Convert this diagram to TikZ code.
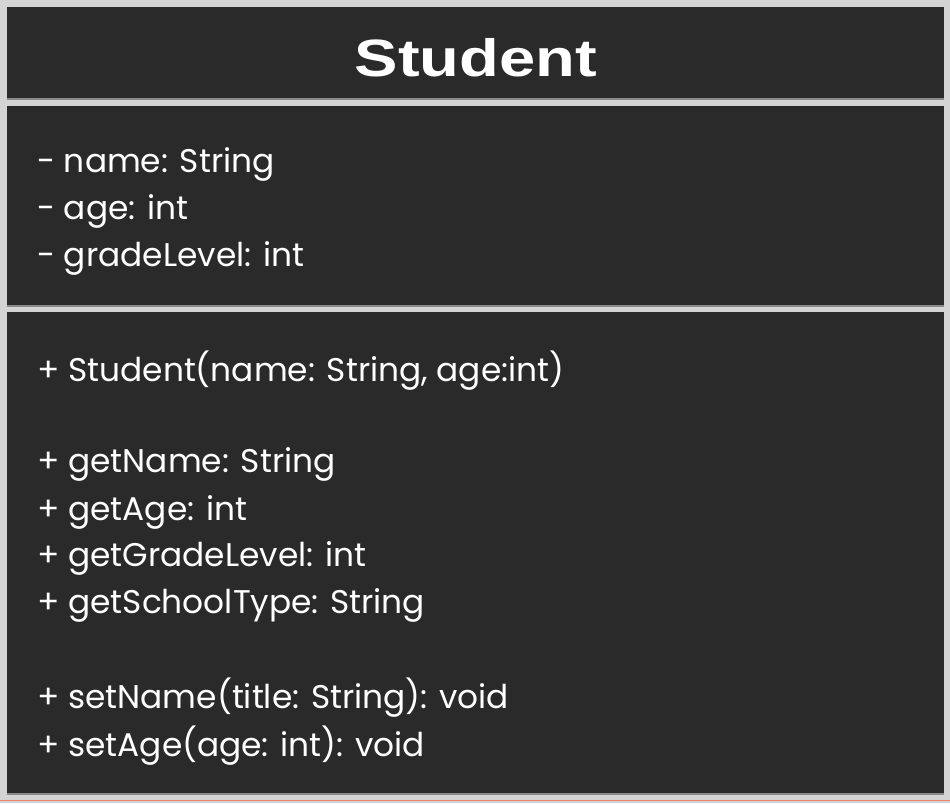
\documentclass[tikz,border=0pt]{standalone}
\usepackage{fontspec}
\setmainfont{Poppins}
\newfontfamily\titlefont{Liberation Sans}
\definecolor{bgGray}{HTML}{D4D4D4}
\definecolor{panel}{HTML}{2A2A2A}
\definecolor{edgeGray}{HTML}{8A8A8A}
\definecolor{redline}{HTML}{F08070}
\begin{document}
\begin{tikzpicture}[x=1pt,y=-1pt,
  panelbox/.style={fill=panel,draw=none,inner sep=0pt,outer sep=0pt},
  member/.style={anchor=west,text=white,inner sep=0pt,font=\fontsize{32.8}{32.8}\selectfont},
  edge/.style={edgeGray,line width=1.2pt}]
\fill[bgGray] (0,0) rectangle (950,803);
\useasboundingbox (0,0) rectangle (950,803);
\draw[redline,line width=0.8pt] (0,800.5) -- (950,800.5);
% panels
\node[panelbox,minimum width=937pt,minimum height=92pt,anchor=north west] (head) at (7,7) {};
\node[panelbox,minimum width=937pt,minimum height=200pt,anchor=north west] (attrs) at (7,106) {};
\node[panelbox,minimum width=937pt,minimum height=482pt,anchor=north west] (ops) at (7,312) {};
\draw[edge] (head.south west) -- (head.south east);
\draw[edge] (attrs.south west) -- (attrs.south east);
\draw[edge] (ops.south west) -- (ops.south east);
% title
\node[text=white,inner sep=0pt] (title) at (476,58) {\scalebox{1.24}[1]{\titlefont\bfseries\fontsize{52.5}{52.5}\selectfont Student}};
% attributes
\node[member] (a1) at (37,164) {- name: String};
\node[member] (a2) at (37,211) {- age: int};
\node[member] (a3) at (37,258) {- gradeLevel: int};
% operations
\node[member] (m1) at (37,371) {+ Student(name: String, age:int)};
\node[member] (m2) at (37,464) {+ getName: String};
\node[member] (m3) at (37,512) {+ getAge: int};
\node[member] (m4) at (37,558) {+ getGradeLevel: int};
\node[member] (m5) at (37,605) {+ getSchoolType: String};
\node[member] (m6) at (37,698) {+ setName(title: String): void};
\node[member] (m7) at (37,746) {+ setAge(age: int): void};
\end{tikzpicture}
\end{document}
